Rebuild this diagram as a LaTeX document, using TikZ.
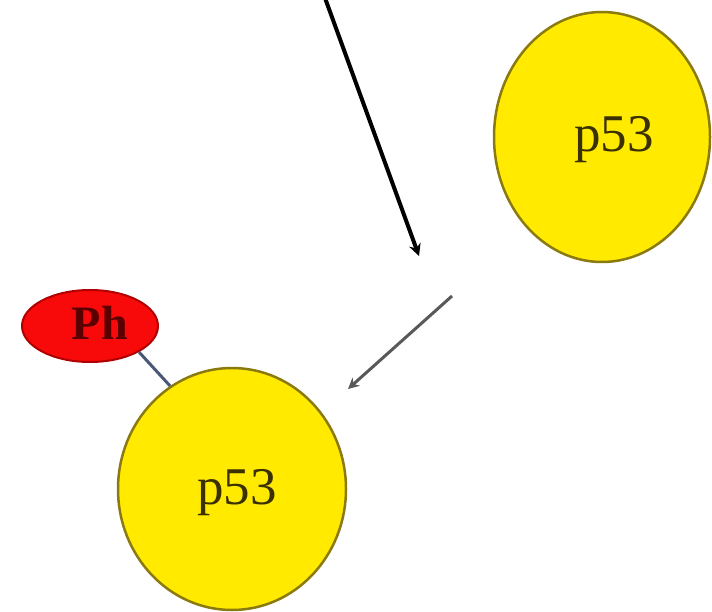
\documentclass[tikz,border=0pt]{standalone}
\usepackage{fontspec}
\setmainfont{Liberation Serif}
\usetikzlibrary{arrows.meta}
\definecolor{pyellow}{HTML}{FFEA00}
\definecolor{polive}{HTML}{8A7A10}
\definecolor{ptext}{HTML}{3A3000}
\definecolor{phred}{HTML}{F80A0A}
\definecolor{phborder}{HTML}{B00000}
\definecolor{phtext}{HTML}{5A0000}
\definecolor{linkblue}{HTML}{4A5878}
\tikzset{
  protein/.style={ellipse, draw=polive, line width=2.5pt, fill=pyellow, inner sep=0pt},
  phospho/.style={ellipse, draw=phborder, line width=2pt, fill=phred, inner sep=0pt},
  ptlabel/.style={font=\fontsize{53}{56}\selectfont, text=ptext},
  phlabel/.style={font=\bfseries\fontsize{48}{50}\selectfont, text=phtext},
  mainarrow/.style={line width=4pt, draw=black, -{Stealth[length=12pt,width=12pt]}},
  grayarrow/.style={line width=3pt, draw=black!65, -{Stealth[length=11pt,width=11pt]}},
  bondline/.style={line width=3pt, draw=linkblue}
}
\usetikzlibrary{shapes.geometric}
\begin{document}
\begin{tikzpicture}[x=1pt,y=-1pt]
\useasboundingbox (0,0) rectangle (712,612);
\node[protein, minimum width=216pt, minimum height=250pt] (p53top) at (602,137) {};
\node[ptlabel] (t1) at (614,140) {p53};
\node[protein, minimum width=228pt, minimum height=242pt] (p53bot) at (232,489) {};
\node[ptlabel] (t2) at (237,493) {p53};
\node[phospho, minimum width=136pt, minimum height=72pt] (Ph) at (90,326) {};
\node[phlabel] (t3) at (100,323) {Ph};
\draw[bondline] (Ph.-28) -- (p53bot.121);
\coordinate (a1s) at (325,-2);
\coordinate (a1e) at (419,256);
\draw[mainarrow] (a1s) -- (a1e);
\coordinate (a2s) at (452,296);
\coordinate (a2e) at (348,389);
\draw[grayarrow] (a2s) -- (a2e);
\end{tikzpicture}
\end{document}
